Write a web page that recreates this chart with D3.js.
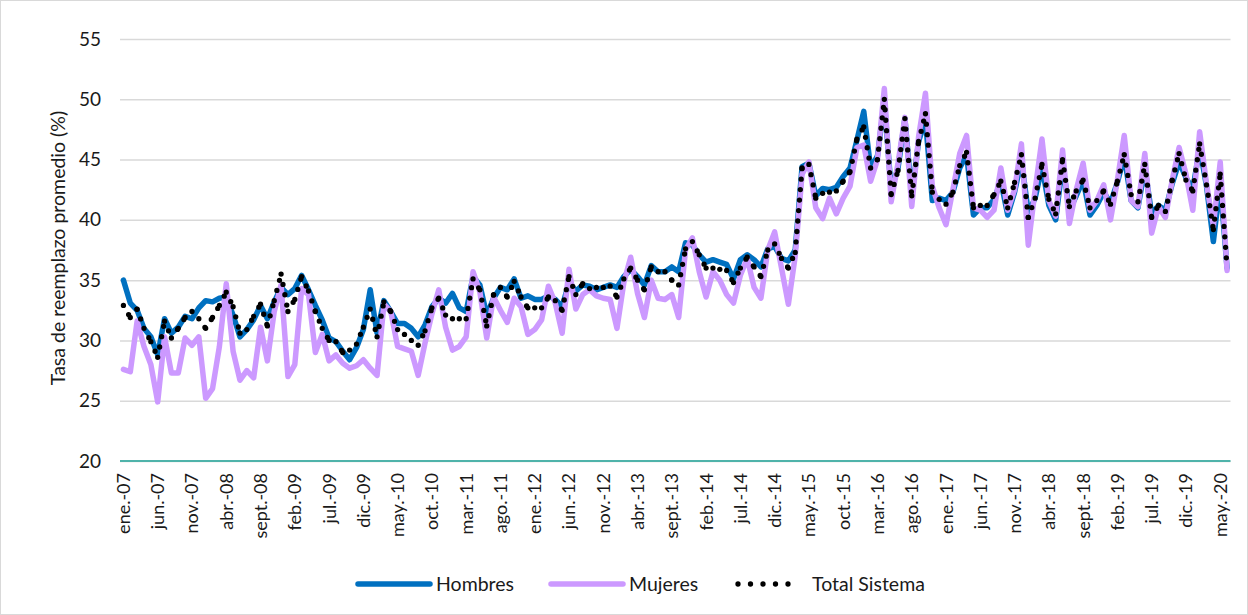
<!DOCTYPE html>
<meta charset="utf-8">
<style>
    body { margin: 0; background: #fff; }
    svg text { font-family: Lato, "Noto Sans", sans-serif; fill: #1a1a1a; }
</style>
<body>
<div class="chart"></div>
<script src="https://d3js.org/d3.v7.min.js"></script>
<script>

    // meses y años del eje X (ene.-07 ... jun.-20)
    const meses = ["ene.", "feb.", "mar.", "abr.", "may.", "jun.", "jul.", "ago.", "sept.", "oct.", "nov.", "dic."];
    const anios = ["07", "08", "09", "10", "11", "12", "13", "14", "15", "16", "17", "18", "19", "20"];
    const categorias = [];
    anios.forEach(a => meses.forEach(m => categorias.push(m + "-" + a)));
    categorias.length = 162;

    const yTicks = [20, 25, 30, 35, 40, 45, 50, 55];

    const hombres = [
        35.0, 33.1, 32.5, 31.0, 30.3, 28.8, 31.8, 30.6, 31.1, 32.0,
        31.8, 32.7, 33.3, 33.2, 33.5, 33.6, 32.1, 30.3, 30.9, 31.7,
        32.9, 31.8, 33.2, 34.4, 33.8, 34.3, 35.4, 34.2, 32.9, 31.7,
        30.2, 29.9, 29.1, 28.4, 29.4, 30.9, 34.2, 30.6, 33.3, 32.4,
        31.4, 31.4, 31.0, 30.3, 31.3, 32.8, 33.5, 33.1, 33.9, 32.7,
        32.4, 35.3, 34.6, 32.1, 33.5, 34.4, 34.2, 35.1, 33.5, 33.7,
        33.4, 33.4, 33.7, 33.4, 32.8, 34.8, 34.1, 34.6, 34.5, 34.2,
        34.4, 34.6, 34.4, 35.3, 35.9, 35.3, 34.6, 36.2, 35.7, 35.7,
        36.1, 35.7, 38.1, 37.9, 37.1, 36.5, 36.7, 36.5, 36.3, 35.1,
        36.7, 37.1, 36.7, 36.1, 37.6, 37.8, 36.8, 36.6, 37.5, 44.4,
        44.7, 42.0, 42.6, 42.5, 42.7, 43.6, 44.3, 46.6, 49.0, 44.3,
        45.3, 49.8, 42.5, 44.3, 48.4, 42.0, 46.5, 48.3, 41.6, 41.8,
        41.6, 42.3, 44.3, 45.4, 40.4, 41.0, 41.0, 41.7, 43.2, 40.4,
        42.3, 45.0, 40.6, 41.8, 44.4, 41.2, 40.0, 44.6, 40.8, 42.0,
        43.3, 40.4, 41.2, 42.3, 41.4, 43.1, 45.3, 41.6, 41.0, 44.3,
        40.5, 41.2, 40.8, 43.0, 44.8, 43.5, 42.5, 46.0, 42.8, 38.2,
        43.0, 36.0
    ];

    const mujeres = [
        27.6, 27.4, 31.6, 29.5, 28.0, 24.9, 30.3, 27.3, 27.3, 30.2,
        29.6, 30.3, 25.2, 26.0, 29.5, 34.7, 29.1, 26.7, 27.5, 26.9,
        31.1, 28.3, 32.4, 34.6, 27.0, 28.0, 34.3, 33.8, 29.0, 30.5,
        28.3, 28.8, 28.1, 27.7, 27.9, 28.4, 27.7, 27.1, 33.0, 32.4,
        29.5, 29.3, 29.1, 27.1, 29.8, 32.2, 34.2, 31.1, 29.2, 29.5,
        30.3, 35.7, 34.0, 30.2, 33.6, 32.5, 31.5, 33.5, 32.8, 30.5,
        30.9, 31.7, 34.5, 33.1, 30.6, 35.9, 32.6, 33.8, 34.2, 33.7,
        33.5, 33.4, 31.0, 34.8, 36.9, 33.9, 31.9, 35.0, 33.5, 33.4,
        33.8, 31.9, 37.5, 38.5, 35.7, 33.6, 35.7, 35.0, 33.8, 33.1,
        35.4, 36.8, 34.4, 33.5, 37.5, 39.0, 36.0, 33.0, 37.0, 43.8,
        44.8, 41.0, 40.1, 41.8, 40.5, 41.8, 42.8, 46.0, 46.2, 43.2,
        45.0, 50.9, 41.5, 44.7, 48.5, 41.1, 46.9, 50.5, 42.8, 41.0,
        39.6, 42.5, 45.5, 47.0, 41.0, 40.8, 40.2, 40.8, 44.3, 40.8,
        42.5, 46.3, 37.9, 42.5, 46.7, 41.6, 40.3, 45.8, 39.7, 42.5,
        44.7, 40.8, 41.6, 42.9, 40.0, 43.3, 47.0, 41.6, 41.1, 45.5,
        38.9, 41.1, 40.2, 43.3, 46.0, 43.8, 40.8, 47.3, 43.0, 39.5,
        44.8, 35.8
    ];

    const totalSistema = [
        32.9, 31.9, 32.6, 31.0, 29.9, 28.6, 31.6, 30.2, 31.0, 31.9,
        32.4, 31.8, 31.0, 31.9, 32.9, 34.0, 32.8, 30.6, 30.9, 32.0,
        33.0, 31.2, 33.3, 35.5, 32.4, 33.4, 35.3, 34.1, 32.4, 31.0,
        30.0, 29.9, 29.0, 29.2, 29.7, 31.1, 32.6, 30.3, 33.2, 32.4,
        30.9, 30.5, 30.0, 29.6, 30.8, 32.7, 33.5, 32.1, 31.8, 31.8,
        31.8, 35.1, 34.2, 31.2, 33.8, 34.4, 33.6, 34.9, 33.6, 32.7,
        32.7, 32.7, 33.6, 33.3, 32.5, 35.3, 33.8, 34.7, 34.3, 34.4,
        34.4, 34.5, 33.6, 35.1, 36.0, 35.0, 34.2, 36.1, 35.7, 35.7,
        35.0, 34.6, 37.6, 38.2, 37.1, 36.0, 36.0, 35.9, 35.8, 34.8,
        36.0, 36.9, 36.1, 35.3, 37.5, 38.0, 36.8, 36.0, 37.3, 44.3,
        44.6, 41.8, 42.2, 42.3, 42.4, 43.2, 44.0, 46.7, 47.7, 44.3,
        45.0, 50.0, 42.1, 44.1, 48.4, 42.0, 46.5, 48.8, 42.3, 41.7,
        41.3, 42.3, 44.5, 45.6, 41.0, 41.2, 41.2, 42.1, 43.2, 41.0,
        43.1, 45.4, 40.2, 41.8, 44.6, 41.7, 40.5, 45.0, 41.1, 42.4,
        43.3, 41.0, 41.6, 42.4, 41.3, 43.2, 45.4, 42.1, 41.5, 44.6,
        40.2, 41.2, 40.7, 43.3, 45.5, 43.3, 42.4, 46.3, 42.9, 39.2,
        43.8, 36.0
    ];

    let width = 1248;
    let height = 615;
    let plot = {left: 120, right: 1230.5, top: 39, bottom: 461};

    let svg = d3.select(".chart").append("svg")
        .attr("width", width)
        .attr("height", height);

    // borde del área del gráfico
    svg.append("rect")
        .attr("x", 0.5).attr("y", 0.5)
        .attr("width", width - 1).attr("height", height - 1)
        .attr("fill", "#fff")
        .attr("stroke", "#d9d9d9");

    let x = d3.scaleBand()
        .domain(d3.range(categorias.length))
        .range([plot.left, plot.right]);
    let cx = i => x(i) + x.bandwidth() / 2;

    let y = d3.scaleLinear()
        .domain([20, 55])
        .range([plot.bottom, plot.top]);

    // eje Y + líneas de división
    let yAxis = svg.append("g")
        .attr("transform", `translate(${plot.left},0)`)
        .call(d3.axisLeft(y)
            .tickValues(yTicks)
            .tickSize(-(plot.right - plot.left))
            .tickPadding(19));
    yAxis.select(".domain").remove();
    yAxis.selectAll(".tick line")
        .attr("stroke", "#d9d9d9")
        .attr("stroke-width", 1.5);
    yAxis.selectAll(".tick text")
        .style("font-size", "19px");

    // eje X
    let xAxis = svg.append("g")
        .attr("transform", `translate(0,${plot.bottom})`)
        .call(d3.axisBottom(x)
            .tickValues(d3.range(0, categorias.length, 5))
            .tickSize(0)
            .tickFormat(i => categorias[i]));
    xAxis.select(".domain").remove();
    xAxis.selectAll(".tick text")
        .attr("transform", "rotate(-90)")
        .attr("text-anchor", "end")
        .attr("x", -12)
        .attr("y", 0)
        .attr("dy", "0.36em")
        .style("font-size", "18px");

    svg.append("line")
        .attr("x1", plot.left).attr("x2", plot.right)
        .attr("y1", y(20)).attr("y2", y(20))
        .attr("stroke", "#4fb3aa")
        .attr("stroke-width", 2);

    // título eje Y
    svg.append("text")
        .attr("transform", "translate(58,248) rotate(-90)")
        .attr("text-anchor", "middle")
        .attr("dy", "0.35em")
        .style("font-size", "19.5px")
        .text("Tasa de reemplazo promedio (%)");

    let line = d3.line()
        .x((d, i) => cx(i))
        .y(d => y(d));

    svg.append("path")
        .datum(hombres)
        .attr("fill", "none")
        .attr("stroke", "#0070c0")
        .attr("stroke-width", 5.5)
        .attr("stroke-linejoin", "round")
        .attr("stroke-linecap", "round")
        .attr("d", line);

    svg.append("path")
        .datum(mujeres)
        .attr("fill", "none")
        .attr("stroke", "#cc99ff")
        .attr("stroke-width", 5.5)
        .attr("stroke-linejoin", "round")
        .attr("stroke-linecap", "round")
        .attr("d", line);

    // total: puntos redondos, el patrón se reinicia en cada tramo (como Excel)
    let puntos = totalSistema.map((v, i) => [cx(i), y(v)]);
    svg.append("g")
        .selectAll("path")
        .data(d3.pairs(puntos))
        .join("path")
        .attr("fill", "none")
        .attr("stroke", "#000")
        .attr("stroke-width", 5.3)
        .attr("stroke-linecap", "round")
        .attr("stroke-dasharray", "0 10.5")
        .attr("d", d => "M" + d[0] + "L" + d[1]);

    // leyenda
    let leyenda = [
        {name: "Hombres", color: "#0070c0", x1: 358, x2: 430, tx: 436, dash: null, w: 5.5},
        {name: "Mujeres", color: "#cc99ff", x1: 551, x2: 623, tx: 629, dash: null, w: 5.5},
        {name: "Total Sistema", color: "#000", x1: 738, x2: 790, tx: 812, dash: "0 12.5", w: 5.3}
    ];
    let ly = 584;
    let lg = svg.append("g").selectAll("g")
        .data(leyenda)
        .join("g");
    lg.append("line")
        .attr("x1", d => d.x1).attr("x2", d => d.x2)
        .attr("y1", ly).attr("y2", ly)
        .attr("stroke", d => d.color)
        .attr("stroke-width", d => d.w)
        .attr("stroke-linecap", "round")
        .attr("stroke-dasharray", d => d.dash);
    lg.append("text")
        .attr("x", d => d.tx)
        .attr("y", ly)
        .attr("dy", "0.35em")
        .style("font-size", "19.5px")
        .text(d => d.name);

</script>
